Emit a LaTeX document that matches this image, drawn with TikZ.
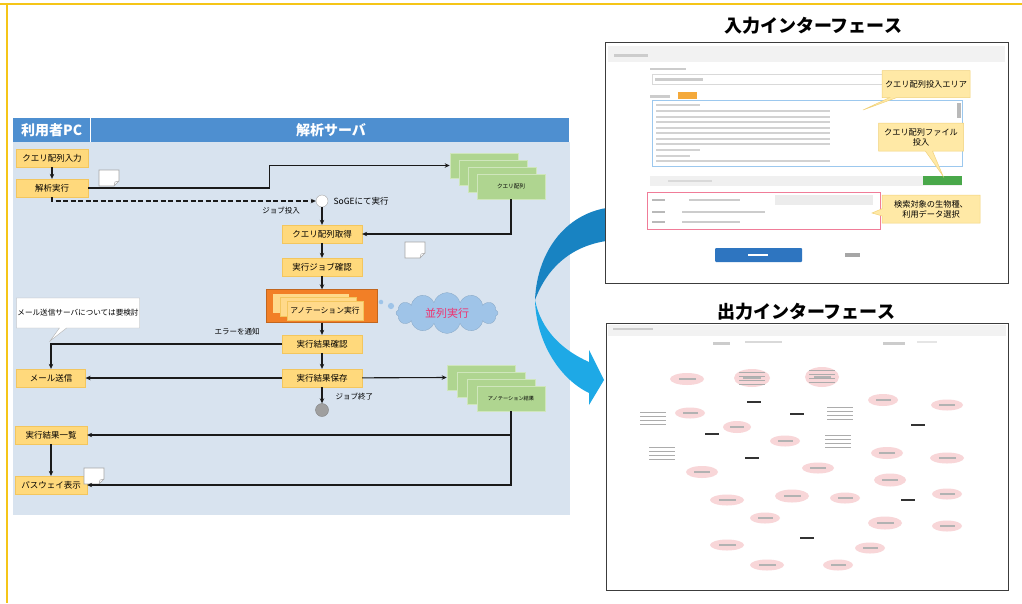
\documentclass[tikz,border=0pt]{standalone}
\usepackage{fontspec}
\setmainfont{Noto Sans CJK JP}
\usepackage{xcolor}
\usepackage{tikz}
\usetikzlibrary{arrows.meta,positioning,calc,shapes.geometric,shapes.symbols,shapes.callouts}
\definecolor{frameYellow}{HTML}{F5C518}
\definecolor{headBlue}{HTML}{4E8FD0}
\definecolor{panelFill}{HTML}{D8E3EF}
\definecolor{procFill}{HTML}{FFD97C}
\definecolor{procLine}{HTML}{F3C65E}
\definecolor{annoOrange}{HTML}{F27F26}
\definecolor{annoLight}{HTML}{FFD98A}
\definecolor{stackFill}{HTML}{AFD590}
\definecolor{stackLine}{HTML}{CFE6BC}
\definecolor{cloudFill}{HTML}{9FC4E8}
\definecolor{cloudText}{HTML}{EE3370}
\definecolor{flowInk}{HTML}{1A1A1A}
\definecolor{arcDark}{HTML}{1883C2}
\definecolor{arcLight}{HTML}{1EA9E6}
\definecolor{tipFill}{HTML}{FFE9A6}
\definecolor{tipLine}{HTML}{F1D27A}
\definecolor{shotGray}{HTML}{3C3C3C}
\definecolor{inputBlue}{HTML}{9CC8EE}
\definecolor{tagOrange}{HTML}{F4A93A}
\definecolor{btnGreen}{HTML}{49A84A}
\definecolor{btnBlue}{HTML}{2E75C0}
\definecolor{pinkLine}{HTML}{F07C98}
\definecolor{outPink}{HTML}{F8D6D8}

\begin{document}
\begin{tikzpicture}[x=1pt,y=-1pt,>={Stealth[length=5pt,width=4.5pt]},
  font=\fontsize{8.5}{10}\selectfont,
  proc/.style={fill=procFill,draw=procLine,line width=0.3pt,minimum width=72,minimum height=18,inner sep=0pt},
  srv/.style={proc,minimum width=80},
  flow/.style={->,line width=1.1pt,draw=flowInk},
  gstack/.style={fill=stackFill,draw=stackLine,line width=0.6pt,minimum width=68,minimum height=25,inner sep=0pt,font=\fontsize{5.6}{6}\selectfont},
  tip/.style={rectangle callout,fill=tipFill,draw=tipLine,line width=0.5pt,align=center,inner sep=3pt,font=\fontsize{8.2}{10}\selectfont},
  small/.style={font=\fontsize{7.5}{9}\selectfont},
  bar/.style={fill=gray!40},
  pinkell/.style={ellipse,fill=outPink,inner sep=0pt}]
\useasboundingbox (0,0) rectangle (1022,603);
% frame
\draw[frameYellow,line width=1.2pt] (0,4) -- (1022,4);
\draw[frameYellow,line width=1.6pt] (7,4) -- (7,603);
% left panel
\node[fill=panelFill,minimum width=557,minimum height=373,inner sep=0pt,anchor=north west] (panel) at (13,142) {};
\node[fill=headBlue,minimum width=77,minimum height=24,inner sep=0pt,anchor=north west,text=white,font=\bfseries\fontsize{14}{16}\selectfont] (pchead) at (13,118) {利用者PC};
\node[fill=headBlue,minimum width=478,minimum height=24,inner sep=0pt,anchor=north west] (srvhead) at (91,118) {};
\node[text=white,font=\bfseries\fontsize{14}{16}\selectfont] (srvtitle) at (331,130) {解析サーバ};
% user side
\node[proc] (nyuryoku) at (52,158) {クエリ配列入力};
\node[proc] (kaiseki) at (52,188) {解析実行};
\node[proc,minimum width=69] (mail) at (51,378) {メール送信};
\node[proc] (ichiran) at (51,435) {実行結果一覧};
\node[proc] (pathway) at (51,485) {パスウェイ表示};
\node[rectangle callout,fill=white,draw=gray!60,minimum width=123,minimum height=30,inner sep=0pt,
  callout absolute pointer={(50,341)},font=\fontsize{7.6}{9}\selectfont] (memo) at (78,313) {メール送信サーバについては要検討};
% server side
\node[circle,draw=gray!70,fill=white,minimum size=12,inner sep=0pt] (soge) at (322,201) {};
\node[anchor=west] (sogelabel) at (330,201) {SoGEにて実行};
\node[small] (tounyu) at (281,211) {ジョブ投入};
\node[srv] (shutoku) at (322,234) {クエリ配列取得};
\node[srv] (jobkakunin) at (322,267) {実行ジョブ確認};
\node[fill=annoOrange,draw=annoOrange!80!black,line width=0.4pt,minimum width=111,minimum height=33,inner sep=0pt] (annoblk) at (322,306) {};
\node[fill=annoLight,minimum width=76,minimum height=19,inner sep=0pt] (annob1) at (311,303) {};
\node[fill=annoLight,draw=procLine,line width=0.3pt,minimum width=76,minimum height=19,inner sep=0pt] (annob2) at (318,307) {};
\node[fill=annoLight,draw=procLine,line width=0.3pt,minimum width=76,minimum height=19,inner sep=0pt,font=\fontsize{7.8}{9}\selectfont] (annob3) at (325,311) {アノテーション実行};
\node[srv] (kakunin) at (322,344) {実行結果確認};
\node[srv] (hozon) at (322,378) {実行結果保存};
\node[circle,fill=gray!75,draw=gray,minimum size=13,inner sep=0pt] (owari) at (322,410) {};
\node[small,anchor=west] (shuryo) at (332,397) {ジョブ終了};
\node[small] (error) at (237,332) {エラーを通知};
% parallel
\node[circle,fill=cloudFill,inner sep=1.6pt] (pdot1) at (381,302) {};
\node[circle,fill=cloudFill,inner sep=2.2pt] (pdot2) at (391,306) {};
\node[cloud,cloud puffs=12,aspect=2.6,fill=cloudFill,draw=cloudFill!85!black,line width=0.3pt,minimum width=102,minimum height=38,
  text=cloudText,font=\fontsize{11}{12}\selectfont] (heiretsu) at (447,313) {並列実行};
% data stacks
\foreach \k in {0,1,2} \node[gstack] (qs\k) at (484+9*\k,165.5+7*\k) {};
\node[gstack] (qs3) at (511,186.5) {クエリ配列};
\foreach \k in {0,1,2} \node[gstack] (as\k) at (481+10*\k,377.5+7*\k) {};
\node[gstack,font=\fontsize{5.2}{6}\selectfont] (as3) at (511,398.5) {アノテーション結果};
% memo icons
\foreach \mx/\my in {109/178,415/250,94/476}{
  \draw[fill=white,draw=gray!70,line width=0.6pt] (\mx-10,\my-8) -- (\mx+10,\my-8) -- (\mx+10,\my+3) -- (\mx+5,\my+8) -- (\mx-10,\my+8) -- cycle;
  \draw[gray!70,line width=0.5pt] (\mx+10,\my+3) -- (\mx+6,\my+4) -- (\mx+5,\my+8);
}
% flow
\draw[flow] (nyuryoku) -- (kaiseki);
\draw[flow] (kaiseki.east) -- ++(181,0) |- (qs0.west);
\draw[flow,dash pattern=on 5pt off 2.5pt] (kaiseki.south) |- (soge.west);
\draw[flow] (soge) -- (shutoku);
\draw[flow] (qs3.south) |- (shutoku.east);
\draw[flow] (shutoku) -- (jobkakunin);
\draw[flow] (jobkakunin) -- (annoblk.north);
\draw[flow] (annoblk) -- (kakunin);
\draw[flow] (kakunin) -- (hozon);
\draw[flow] (hozon) -- (owari);
\draw[flow] (kakunin.west) -| (mail.north);
\draw[flow] (hozon) -- (mail);
\draw[flow] (hozon) -- (as0.west);
\draw[flow] (as3.south) |- (ichiran.east);
\draw[flow] (as3.south) |- (pathway.east);
\draw[flow] (ichiran) -- (pathway);
% curved arrow
\fill[arcDark] (615,207) .. controls (568,210) and (537,250) .. (535,300) .. controls (548,265) and (575,243) .. (615,240) -- cycle;
\fill[arcLight] (535,300) .. controls (536,340) and (558,378) .. (589,393) -- (589,405) -- (604,380) -- (589,350) -- (589,362) .. controls (562,350) and (541,330) .. (535,300) -- cycle;
% input interface
\node[font=\bfseries\fontsize{18}{20}\selectfont] (intitle) at (813,26) {入力インターフェース};
\node[draw=shotGray,line width=1.3pt,fill=white,minimum width=403,minimum height=241,inner sep=0pt,anchor=north west] (inshot) at (605,42) {};
\fill[gray!10] (608,46) rectangle (1005,62);
\fill[bar] (614,54) rectangle (648,56.5);
\fill[bar] (650,67.5) rectangle (686,70);
\draw[gray!30] (652,74) rectangle (960,84);
\fill[bar] (655,78) rectangle (703,80.5);
\fill[bar] (650,95) rectangle (670,97.5);
\fill[tagOrange] (678,92) rectangle (697,99);
\draw[inputBlue,line width=0.7pt] (652,100) rectangle (962,166);
\foreach \ty/\tl in {104/700,110/830,116/830,121/830,127/830,132/830,138/830,143/830,149/700,155/690,160/830}
  \fill[gray!35] (656,\ty) rectangle (\tl,\ty+1.6);
\fill[gray!55] (957,103) rectangle (961,118);
\fill[gray!12] (650,176) rectangle (962,186);
\fill[gray!30] (668,180) rectangle (712,182);
\fill[btnGreen] (923,176) rectangle (962,185);
\draw[pinkLine,line width=0.8pt] (647,192) rectangle (880,229);
\foreach \ry/\ra/\rb in {200/689/740,212/682/765,222/682/740} {
  \fill[gray!55] (652,\ry-1) rectangle (665,\ry+1);
  \fill[gray!40] (\ra,\ry-1) rectangle (\rb,\ry+1);
}
\fill[gray!15] (775,195) rectangle (873,205);
\fill[btnBlue,rounded corners=1pt] (715,248) rectangle (802,262);
\fill[white] (748,254) rectangle (768,256);
\fill[gray!70] (845,253) rectangle (860,257);
\node[tip,minimum width=88,minimum height=27,callout absolute pointer={(863,110)}] (tipquery) at (926,84) {クエリ配列投入エリア};
\node[tip,minimum width=85,minimum height=28,callout absolute pointer={(943,176)}] (tipfile) at (921,137) {クエリ配列ファイル\\投入};
\node[tip,minimum width=98,minimum height=28,callout absolute pointer={(872,213)}] (tipspecies) at (931,209) {検索対象の生物種、\\利用データ選択};
% output interface
\node[font=\bfseries\fontsize{18}{20}\selectfont] (outtitle) at (806,312) {出力インターフェース};
\node[draw=shotGray,line width=1.3pt,fill=white,minimum width=402,minimum height=267,inner sep=0pt,anchor=north west] (outshot) at (606,323) {};
\fill[gray!10] (608,325) rectangle (1006,336);
\fill[bar] (613,328) rectangle (653,330);
\fill[bar] (713,342) rectangle (730,344.5);
\fill[gray!30] (745,341) rectangle (782,343);
\fill[bar] (883,342) rectangle (905,344.5);
\fill[gray!20] (917,341) rectangle (937,343);
\foreach \ex/\ey/\ew/\eh [count=\i] in {687/379/34/12,752/378/36/18,822/377/34/20,883/400/30/12,947/405/32/11,690/413/30/11,
  737/427/28/12,785/441/30/11,887/453/32/12,947/458/34/11,818/468/32/11,702/472/32/12,890/480/32/13,727/500/34/11,
  792/496/34/13,845/498/30/11,947/494/30/11,765/518/30/11,885/523/34/13,947/526/30/11,727/545/34/11,870/548/30/11,
  767/565/34/11,838/565/30/11} {
  \node[pinkell,minimum width=\ew,minimum height=\eh] (pe\i) at (\ex,\ey) {};
  \fill[gray!60] (\ex-\ew/4,\ey-0.6) rectangle (\ex+\ew/4,\ey+0.6);
}
\foreach \cx/\cy in {653/418,840/413,838/441,662/453,752/378,822/376}
  \foreach \j in {0,...,3}
    \fill[gray!65] (\cx-13,\cy-6+4*\j) rectangle (\cx+13,\cy-5+4*\j);
\foreach \bx/\by in {754/402,797/414,712/434,752/458,918/425,908/500,807/538}
  \fill[black!80] (\bx-7,\by-1.2) rectangle (\bx+7,\by+1.2);
\end{tikzpicture}
\end{document}
